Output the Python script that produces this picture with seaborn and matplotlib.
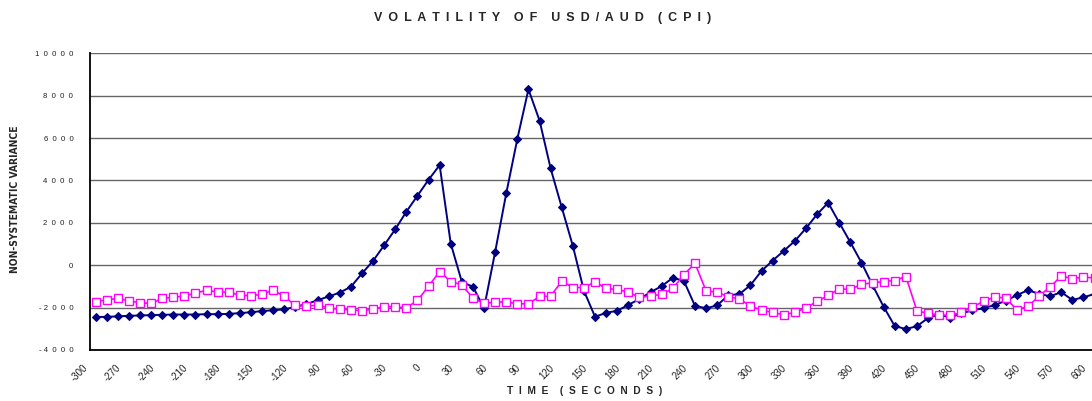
import numpy as np
import pandas as pd
import matplotlib
matplotlib.use("Agg")
import matplotlib.pyplot as plt
import matplotlib.transforms as mtrans
import seaborn as sns
from matplotlib import font_manager
from matplotlib.ticker import FixedLocator, MultipleLocator

times = list(range(-300, 610, 10))

series_a = [
    -2448, -2432, -2416, -2385, -2370, -2355, -2340, -2325, -2325, -2325,
    -2310, -2310, -2295, -2260, -2215, -2165, -2120, -2085, -1960, -1835,
    -1650, -1475, -1290, -1020, -390, 205, 940, 1695, 2526, 3279,
    4032, 4723, 1020, -785, -1020, -2024, 628, 3389, 5962, 8300,
    6825, 4566, 2730, 910, -1208, -2432, -2244, -2150, -1867, -1600,
    -1271, -988, -596, -737, -1914, -2030, -1898, -1412, -1365, -941,
    -267, 220, 675, 1145, 1742, 2400, 2950, 2008, 1083, 126,
    -941, -1961, -2871, -3010, -2878, -2490, -2324, -2472, -2270, -2130,
    -2028, -1880, -1677, -1412, -1178, -1349, -1466, -1271, -1638, -1513,
    -1357,
]

series_b = [
    -1726, -1632, -1569, -1679, -1773, -1804, -1569, -1506, -1459, -1318,
    -1177, -1271, -1271, -1412, -1443, -1365, -1177, -1475, -1898, -1930,
    -1883, -2008, -2087, -2102, -2150, -2071, -1953, -1961, -2008, -1663,
    -988, -298, -769, -926, -1553, -1804, -1742, -1726, -1820, -1820,
    -1475, -1459, -753, -1051, -1051, -785, -1098, -1145, -1271, -1522,
    -1443, -1381, -1098, -455, 94, -1208, -1271, -1490, -1584, -1930,
    -2118, -2228, -2338, -2228, -2008, -1710, -1428, -1114, -1145, -894,
    -832, -769, -722, -533, -2150, -2275, -2338, -2369, -2228, -1961,
    -1710, -1490, -1553, -2102, -1945, -1459, -1020, -518, -628, -565,
    -596,
]

y_ticks = [-4000, -2000, 0, 2000, 4000, 6000, 8000, 10000]
y_tick_labels = ["- 4  0  0  0", "- 2  0  0  0", "0", "2  0  0  0", "4  0  0  0",
                 "6  0  0  0", "8  0  0  0", "1  0  0  0  0"]
x_label_times = list(range(-300, 610, 30))

title = "V\u2009 O\u2009 L\u2009 A\u2009 T\u2009 I\u2009 L\u2009 I\u2009 T\u2009 Y    O\u2009 F    U\u2009 S\u2009 D\u2009 /\u2009 A\u2009 U\u2009 D    (\u2009 C\u2009 P\u2009 I\u2009 )"
x_title = "T  I  M  E    (  S  E  C  O  N  D  S  )"
y_title = "NON-SYSTEMATIC VARIANCE"

sns.set_style("white")
plt.rcParams["font.family"] = ["Liberation Sans", "DejaVu Sans"]

# condensed face for the y title if one is installed
cond_family, cond_stretch = "Liberation Sans", "normal"
for f in font_manager.fontManager.ttflist:
    if f.name == "Liberation Sans Narrow":
        cond_family, cond_stretch = "Liberation Sans Narrow", "normal"
        break
    if f.name == "DejaVu Sans" and str(f.stretch) in ("condensed", "semi-condensed"):
        cond_family, cond_stretch = "DejaVu Sans", "condensed"

W, H = 1092, 401
fig = plt.figure(figsize=(W / 100, H / 100), dpi=100)
left, top, bottom = 90, 53.3, 350
width = 91 * 11.1
ax = fig.add_axes([left / W, (H - bottom) / H, width / W, (bottom - top) / H])

df = pd.DataFrame({"time": times, "a": series_a, "b": series_b})

sns.lineplot(data=df, x="time", y="a", ax=ax, color="#000080", lw=1.4,
             marker="D", markersize=3.9, markeredgecolor="#000080",
             markerfacecolor="#000080", zorder=3)
sns.lineplot(data=df, x="time", y="b", ax=ax, color="#FF00FF", lw=1.2,
             marker="s", markersize=5.2, markeredgecolor="#FF00FF",
             markerfacecolor="white", markeredgewidth=1.0, zorder=4)

ax.set_xlim(-305, 605)
ax.set_ylim(-4000, 10000)

ax.yaxis.set_major_locator(FixedLocator(y_ticks))
ax.set_yticklabels(y_tick_labels, fontsize=5.6, color="#222222")
ax.tick_params(axis="y", which="major", direction="out", length=4, width=0.8, pad=8)

ax.xaxis.set_major_locator(FixedLocator(x_label_times))
ax.set_xticklabels([str(t) for t in x_label_times], fontsize=7, rotation=45,
                   ha="right", rotation_mode="anchor", color="#222222")
ax.tick_params(axis="x", which="major", length=0, pad=9)
shift = mtrans.ScaledTranslation(-13 / 100, 0, fig.dpi_scale_trans)
for lbl in ax.get_xticklabels():
    lbl.set_transform(lbl.get_transform() + shift)
ax.xaxis.set_minor_locator(MultipleLocator(10, offset=5))
ax.tick_params(axis="x", which="minor", direction="out", length=4, width=0.8, color="black")

for gy in y_ticks[1:]:
    ax.axhline(gy, color="#666666", lw=1.0, zorder=1)

for s in ["top", "right"]:
    ax.spines[s].set_visible(False)
for s in ["left", "bottom"]:
    ax.spines[s].set_color("black")
    ax.spines[s].set_linewidth(1.3)

ax.set_xlabel("")
ax.set_ylabel("")

t1 = fig.text(543 / W, 1 - 18 / H, title, ha="center", va="center",
              fontsize=8.3, fontweight="bold")
t2 = fig.text(585 / W, 1 - 391 / H, x_title, ha="center", va="center",
              fontsize=6.5, fontweight="bold")
t3 = fig.text(15 / W, 1 - 199 / H, y_title, ha="center", va="center",
              rotation=90, fontsize=9, fontweight="bold",
              family=[cond_family, "DejaVu Sans"], fontstretch=cond_stretch)

# fit text lengths to the reference
renderer = fig.canvas.get_renderer()
for txt, target, vertical in [(t1, 335, False), (t2, 155, False), (t3, 146, True)]:
    bb = txt.get_window_extent(renderer)
    cur = bb.height if vertical else bb.width
    txt.set_fontsize(txt.get_fontsize() * target / cur)

fig.savefig("out.png", dpi=100)
